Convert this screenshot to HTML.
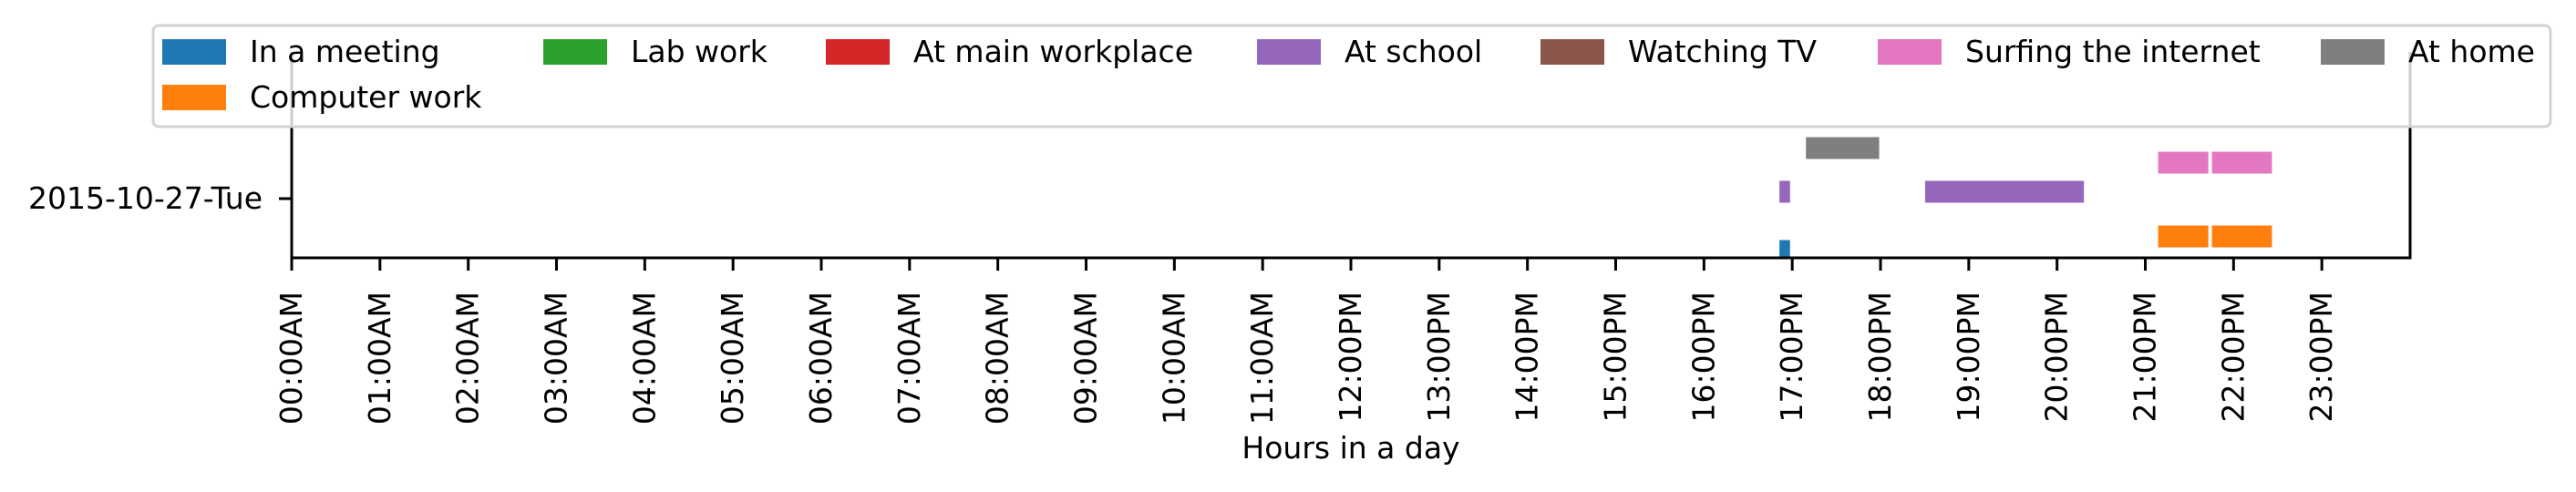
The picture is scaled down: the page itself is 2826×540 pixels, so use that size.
<!DOCTYPE html>
<html><head><meta charset="utf-8"><style>
html,body{margin:0;padding:0;background:#fff;width:2826px;height:540px;overflow:hidden}
svg{display:block;font-family:"DejaVu Sans","Liberation Sans",sans-serif}
</style></head><body>
<svg id="chart" width="2826" height="540">
  <g id="bars"></g>
  <g id="axes"></g>
  <g id="legend"></g>
</svg>
<script>
const categories = ["In a meeting","Computer work","Lab work","At main workplace","At school","Watching TV","Surfing the internet","At home"];
const colors = ["#1f77b4","#ff7f0e","#2ca02c","#d62728","#9467bd","#8c564b","#e377c2","#7f7f7f"];
const rowOffset = [0.72,0.784,0.85,0.9,0.98,1.05,1.108,1.172];
const barCat = [0,4,7,4,6,6,1,1];
const barStart = [16.85,16.85,17.15,18.50,21.14,21.75,21.14,21.75];
const barEnd = [16.98,16.98,17.99,20.31,21.72,22.44,21.72,22.44];
const xTicks = [0,1,2,3,4,5,6,7,8,9,10,11,12,13,14,15,16,17,18,19,20,21,22,23];
const xTickLabels = ["00:00AM","01:00AM","02:00AM","03:00AM","04:00AM","05:00AM","06:00AM","07:00AM","08:00AM","09:00AM","10:00AM","11:00AM","12:00PM","13:00PM","14:00PM","15:00PM","16:00PM","17:00PM","18:00PM","19:00PM","20:00PM","21:00PM","22:00PM","23:00PM"];
const yTicks = [1];
const yTickLabels = ["2015-10-27-Tue"];
const barHeight = 0.1;

const NS="http://www.w3.org/2000/svg";
const L=320,R=2644,T=57,B=283;
const xmin=0,xmax=24;
const yUnit=250, yRef=1, yRefPix=218;
const FS=33;
const xs=v=>L+(v-xmin)/(xmax-xmin)*(R-L);
const ys=v=>yRefPix-(v-yRef)*yUnit;
function mk(tag,attrs,parent){const e=document.createElementNS(NS,tag);for(const k in attrs)e.setAttribute(k,attrs[k]);parent.appendChild(e);return e;}

const gb=document.getElementById('bars');
const clip=mk('clipPath',{id:'clipA'},document.getElementById('chart'));
mk('rect',{x:L,y:T,width:R-L,height:B-T},clip);
gb.setAttribute('clip-path','url(#clipA)');
for(let i=0;i<barStart.length;i++){
  const c=barCat[i];
  const x0=xs(barStart[i]),x1=xs(barEnd[i]);
  const y1=ys(rowOffset[c]),y0=ys(rowOffset[c]+barHeight);
  const r=mk('rect',{x:x0,y:y0,width:x1-x0,height:y1-y0,fill:colors[c],stroke:'#fff','stroke-width':1},gb);
  
  
}

const ga=document.getElementById('axes');
mk('path',{d:`M${L},${T}V${B}H${R}V${T}`,fill:'none',stroke:'#000','stroke-width':3},ga);
for(let i=0;i<xTicks.length;i++){
  const x=xs(xTicks[i]);
  mk('line',{x1:x,y1:B,x2:x,y2:B+14,stroke:'#000','stroke-width':3},ga);
  const t=mk('text',{x:0,y:0,transform:`translate(${x+11},320) rotate(-90)`,'text-anchor':'end','font-size':FS},ga);
  t.textContent=xTickLabels[i];
  
  
}
for(let i=0;i<yTicks.length;i++){
  const y=ys(yTicks[i]);
  mk('line',{x1:L-14,y1:y,x2:L,y2:y,stroke:'#000','stroke-width':3},ga);
  const t=mk('text',{x:L-32,y:y+11,'text-anchor':'end','font-size':FS},ga);
  t.textContent=yTickLabels[i];
  
  
}
const xl=mk('text',{x:(L+R)/2,y:503,'text-anchor':'middle','font-size':FS},ga);
xl.textContent="Hours in a day";



const gl=document.getElementById('legend');
mk('rect',{x:168,y:28,width:2630,height:111,rx:6,fill:'rgba(255,255,255,0.8)',stroke:'#d3d3d3','stroke-width':3},gl);
const colX=[178,596,906,1379,1690,2060,2546];
const order=[[0,0],[1,0],[2,1],[3,2],[4,3],[5,4],[6,5],[7,6]];
const rowY=[57,107];
order.forEach(([c,col],k)=>{
  const row=(c===1)?1:0;
  const g=mk('g',{},gl);
  
  
  mk('rect',{x:colX[col],y:rowY[row]-14,width:70,height:28,fill:colors[c]},g);
  const t=mk('text',{x:colX[col]+96,y:rowY[row]+11,'font-size':FS},g);
  t.textContent=categories[c];
});
</script>
</body></html>
